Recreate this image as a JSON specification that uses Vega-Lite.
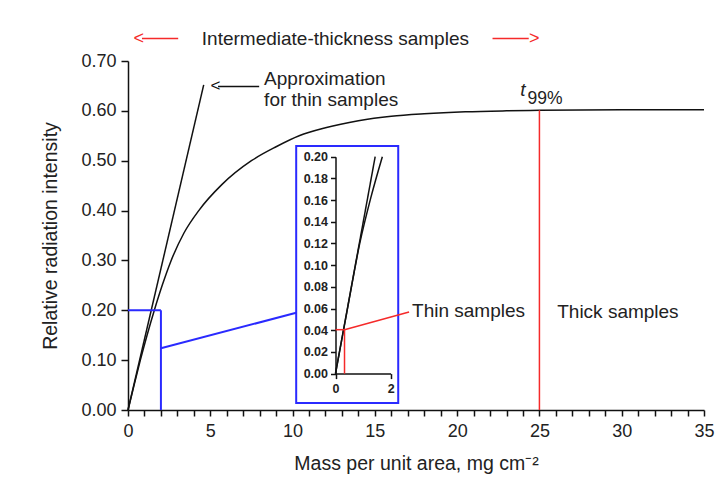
{
  "$schema": "https://vega.github.io/schema/vega-lite/v6.json",
  "width": 576,
  "height": 349,
  "autosize": {"type": "none"},
  "padding": {"left": 128, "top": 61, "right": 20, "bottom": 84},
  "background": "white",
  "config": {
    "view": {"stroke": null},
    "font": "Liberation Sans",
    "axis": {
      "domainColor": "#111111",
      "tickColor": "#111111",
      "labelColor": "#222222",
      "titleColor": "#222222",
      "labelFont": "Liberation Sans",
      "titleFont": "Liberation Sans",
      "titleFontWeight": "normal",
      "grid": false,
      "domainWidth": 1.5,
      "tickWidth": 1.5,
      "labelFlush": false,
      "labelOverlap": false
    }
  },
  "layer": [
    {
      "encoding": {
        "x": {
          "field": "x", "type": "quantitative",
          "scale": {"domain": [0, 35], "nice": false, "zero": false},
          "axis": {
            "values": [0,1,2,3,4,5,6,7,8,9,10,11,12,13,14,15,16,17,18,19,20,21,22,23,24,25,26,27,28,29,30,31,32,33,34,35],
            "labelExpr": "datum.value % 5 === 0 ? datum.label : ''",
            "labelFontSize": 18, "tickSize": 6, "labelPadding": 6,
            "title": "Mass per unit area, mg cm⁻²", "titleFontSize": 19.5, "titlePadding": 14
          }
        },
        "y": {
          "field": "y", "type": "quantitative",
          "scale": {"domain": [0, 0.7], "nice": false, "zero": false},
          "axis": {
            "values": [0, 0.1, 0.2, 0.3, 0.4, 0.5, 0.6, 0.7],
            "format": ".2f",
            "labelFontSize": 18, "tickSize": 7, "labelPadding": 5,
            "title": "Relative radiation intensity", "titleFontSize": 19.5, "titlePadding": 20
          }
        }
      },
      "layer": [
        {
          "data": {"values": [
            {"x": 0, "y": 0}, {"x": 0.4, "y": 0.054}, {"x": 0.75, "y": 0.1}, {"x": 1.15, "y": 0.149},
            {"x": 1.6, "y": 0.2}, {"x": 2.1, "y": 0.252}, {"x": 2.6, "y": 0.298}, {"x": 3.4, "y": 0.355},
            {"x": 4.3, "y": 0.4}, {"x": 5.7, "y": 0.452}, {"x": 7.5, "y": 0.5}, {"x": 9, "y": 0.528},
            {"x": 10.4, "y": 0.55}, {"x": 12, "y": 0.566}, {"x": 14, "y": 0.58}, {"x": 16, "y": 0.589},
            {"x": 18, "y": 0.594}, {"x": 20.5, "y": 0.598}, {"x": 23, "y": 0.6}, {"x": 25, "y": 0.601},
            {"x": 30, "y": 0.602}, {"x": 35, "y": 0.602}
          ]},
          "mark": {"type": "line", "color": "#111111", "strokeWidth": 1.5, "interpolate": "monotone"}
        },
        {
          "data": {"values": [{"x": 0, "y": 0}, {"x": 4.6, "y": 0.652}]},
          "mark": {"type": "line", "color": "#111111", "strokeWidth": 1.5}
        },
        {
          "data": {"values": [
            {"x": 0, "y": 0.2, "x2": 2, "y2": 0.2},
            {"x": 2, "y": 0, "x2": 2, "y2": 0.2},
            {"x": 2, "y": 0.1237, "x2": 10.22, "y2": 0.195}
          ]},
          "mark": {"type": "rule", "color": "#2a2aff", "strokeWidth": 2},
          "encoding": {"x2": {"field": "x2"}, "y2": {"field": "y2"}}
        },
        {
          "data": {"values": [{"x": 10.22, "x2": 16.42, "y": 0.014, "y2": 0.5295}]},
          "mark": {"type": "rect", "fill": null, "fillOpacity": 0, "stroke": "#2a2aff", "strokeWidth": 2},
          "encoding": {"x2": {"field": "x2"}, "y2": {"field": "y2"}}
        },
        {
          "data": {"values": [
            {"x": 25, "y": 0, "x2": 25, "y2": 0.601},
            {"x": 0.85, "y": 0.745, "x2": 3.05, "y2": 0.745},
            {"x": 22.15, "y": 0.745, "x2": 24.35, "y2": 0.745}
          ]},
          "mark": {"type": "rule", "color": "#f52a2a", "strokeWidth": 1.5},
          "encoding": {"x2": {"field": "x2"}, "y2": {"field": "y2"}}
        },
        {
          "data": {"values": [{"x": 5.47, "y": 0.649, "x2": 7.97, "y2": 0.649}]},
          "mark": {"type": "rule", "color": "#111111", "strokeWidth": 1.5},
          "encoding": {"x2": {"field": "x2"}, "y2": {"field": "y2"}}
        },
        {
          "data": {"values": [
            {"label": "Approximation", "x": 8.27, "y": 0.652},
            {"label": "for thin samples", "x": 8.27, "y": 0.6097},
            {"label": "Thin samples", "x": 17.26, "y": 0.1865},
            {"label": "Thick samples", "x": 26.08, "y": 0.1845}
          ]},
          "mark": {"type": "text", "align": "left", "baseline": "alphabetic", "fontSize": 19, "color": "#222222"},
          "encoding": {"text": {"field": "label"}}
        },
        {
          "data": {"values": [{"label": "Intermediate-thickness samples", "x": 12.6, "y": 0.7315}]},
          "mark": {"type": "text", "align": "center", "baseline": "alphabetic", "fontSize": 19, "color": "#222222"},
          "encoding": {"text": {"field": "label"}}
        },
        {
          "data": {"values": [{"label": "<", "x": 5.02, "y": 0.649}]},
          "mark": {"type": "text", "align": "left", "baseline": "middle", "fontSize": 17, "color": "#111111"},
          "encoding": {"text": {"field": "label"}}
        },
        {
          "data": {"values": [{"label": "<", "x": 0.34, "y": 0.745}]},
          "mark": {"type": "text", "align": "left", "baseline": "middle", "fontSize": 18, "color": "#f52a2a"},
          "encoding": {"text": {"field": "label"}}
        },
        {
          "data": {"values": [{"label": ">", "x": 25.0, "y": 0.745}]},
          "mark": {"type": "text", "align": "right", "baseline": "middle", "fontSize": 18, "color": "#f52a2a"},
          "encoding": {"text": {"field": "label"}}
        },
        {
          "data": {"values": [{"label": "t", "x": 23.84, "y": 0.6308}]},
          "mark": {"type": "text", "align": "left", "baseline": "alphabetic", "fontSize": 19, "fontStyle": "italic", "color": "#222222"},
          "encoding": {"text": {"field": "label"}}
        },
        {
          "data": {"values": [{"label": "99%", "x": 24.27, "y": 0.6137}]},
          "mark": {"type": "text", "align": "left", "baseline": "alphabetic", "fontSize": 17.5, "color": "#222222"},
          "encoding": {"text": {"field": "label"}}
        }
      ]
    },
    {
      "encoding": {
        "x": {
          "field": "x", "type": "quantitative",
          "scale": {"domain": [0, 2], "nice": false, "zero": false, "range": [207.5, 262.6]},
          "axis": {
            "orient": "bottom", "offset": -36.4, "values": [0, 1, 2], "format": "d",
            "labelFontSize": 12.5, "labelFontWeight": "bold", "tickSize": 5, "labelPadding": 4, "title": null
          }
        },
        "y": {
          "field": "y", "type": "quantitative",
          "scale": {"domain": [0, 0.2], "nice": false, "zero": false, "range": [312.6, 95.7]},
          "axis": {
            "orient": "left", "offset": -207.5,
            "values": [0, 0.02, 0.04, 0.06, 0.08, 0.1, 0.12, 0.14, 0.16, 0.18, 0.2],
            "format": ".2f", "labelFontSize": 12.5, "labelFontWeight": "bold", "tickSize": 5, "labelPadding": 3, "title": null
          }
        }
      },
      "layer": [
        {
          "data": {"values": [
            {"s": "approx", "x": 0, "y": 0}, {"s": "approx", "x": 1.44, "y": 0.2},
            {"s": "curve", "x": 0, "y": 0}, {"s": "curve", "x": 0.45, "y": 0.062}, {"s": "curve", "x": 0.88, "y": 0.12},
            {"s": "curve", "x": 1.28, "y": 0.162}, {"s": "curve", "x": 1.7, "y": 0.2}
          ]},
          "mark": {"type": "line", "color": "#111111", "strokeWidth": 1.5, "interpolate": "monotone"},
          "encoding": {"detail": {"field": "s"}}
        },
        {
          "data": {"values": [
            {"x": 0, "y": 0.0405, "x2": 0.327, "y2": 0.0405},
            {"x": 0.327, "y": 0, "x2": 0.327, "y2": 0.0405},
            {"x": 0.327, "y": 0.0405, "x2": 2.67, "y2": 0.0568}
          ]},
          "mark": {"type": "rule", "color": "#f52a2a", "strokeWidth": 1.5},
          "encoding": {"x2": {"field": "x2"}, "y2": {"field": "y2"}}
        }
      ]
    }
  ],
  "resolve": {
    "scale": {"x": "independent", "y": "independent"},
    "axis": {"x": "independent", "y": "independent"}
  }
}
